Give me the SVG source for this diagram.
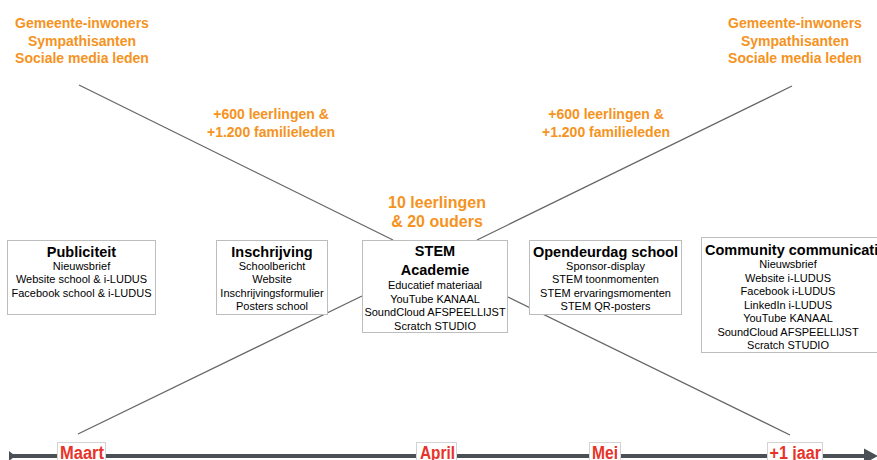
<svg xmlns="http://www.w3.org/2000/svg" width="877" height="460" viewBox="0 0 877 460">
<style>
.o{font-family:"Liberation Sans",Arial,sans-serif;font-weight:bold;fill:#F5931E;text-anchor:middle}
.o14{font-size:14px}
.o16{font-size:16px}
.box{fill:#fff;stroke:#bdbdbd;stroke-width:1}
.t{font-family:"Liberation Sans",Arial,sans-serif;font-weight:bold;font-size:14.5px;fill:#000;text-anchor:middle}
.b{font-family:"Liberation Sans",Arial,sans-serif;font-size:11px;fill:#000;text-anchor:middle}
.ln{stroke:#666;stroke-width:1.3;fill:none}
.lbl{fill:#fff;stroke:#d3d3d3;stroke-width:1}
.m{font-family:"Liberation Sans",Arial,sans-serif;font-weight:bold;font-size:18px;fill:#E8332B}
</style>
<rect width="877" height="460" fill="#fff"/>

<g id="audience-left">
<text class="o o14" x="82" y="28">Gemeente-inwoners</text>
<text class="o o14" x="82" y="45.5">Sympathisanten</text>
<text class="o o14" x="82" y="63">Sociale media leden</text>
</g>
<g id="audience-right">
<text class="o o14" x="795" y="28">Gemeente-inwoners</text>
<text class="o o14" x="795" y="45.5">Sympathisanten</text>
<text class="o o14" x="795" y="63">Sociale media leden</text>
</g>
<g id="reach-left">
<text class="o o14" x="271" y="119">+600 leerlingen &amp;</text>
<text class="o o14" x="271" y="136.5">+1.200 familieleden</text>
</g>
<g id="reach-right">
<text class="o o14" x="606" y="119">+600 leerlingen &amp;</text>
<text class="o o14" x="606" y="136.5">+1.200 familieleden</text>
</g>
<g id="reach-center">
<text class="o o16" x="437" y="207.5">10 leerlingen</text>
<text class="o o16" x="437" y="227">&amp; 20 ouders</text>
</g>

<g id="connectors">
<line class="ln" x1="79" y1="85" x2="393" y2="240"/>
<line class="ln" x1="792" y1="86" x2="477" y2="240"/>
<line class="ln" x1="78" y1="434" x2="362" y2="296"/>
<line class="ln" x1="508" y1="297" x2="790" y2="435"/>
<line x1="10" y1="456" x2="866" y2="456" stroke="#4b5056" stroke-width="4"/>
<polygon points="9,451 14,455 14,457 9,461" fill="#4b5056"/>
<polygon points="864,448.5 878,456 864,463.5" fill="#4b5056"/>
</g>

<g id="publiciteit">
<rect class="box" x="7.5" y="240.5" width="148" height="74"/>
<text class="t" x="81.5" y="257">Publiciteit</text>
<text class="b" x="81.5" y="269.5">Nieuwsbrief</text>
<text class="b" x="81.5" y="283">Website school &amp; i-LUDUS</text>
<text class="b" x="81.5" y="296.5">Facebook school &amp; i-LUDUS</text>
</g>
<g id="inschrijving">
<rect class="box" x="216.5" y="240.5" width="111" height="74"/>
<text class="t" x="272" y="257">Inschrijving</text>
<text class="b" x="272" y="269.5">Schoolbericht</text>
<text class="b" x="272" y="283">Website</text>
<text class="b" x="272" y="296.5">Inschrijvingsformulier</text>
<text class="b" x="272" y="310">Posters school</text>
</g>
<g id="stem-academie">
<rect class="box" x="362.5" y="240.5" width="145" height="92"/>
<text class="t" x="435" y="256">STEM</text>
<text class="t" x="435" y="274.5">Academie</text>
<text class="b" x="435" y="289">Educatief materiaal</text>
<text class="b" x="435" y="302.5">YouTube KANAAL</text>
<text class="b" x="435" y="316">SoundCloud AFSPEELLIJST</text>
<text class="b" x="435" y="329.5">Scratch STUDIO</text>
</g>
<g id="opendeurdag">
<rect class="box" x="529.5" y="240.5" width="152" height="74"/>
<text class="t" x="605.5" y="257">Opendeurdag school</text>
<text class="b" x="605.5" y="269.5">Sponsor-display</text>
<text class="b" x="605.5" y="283">STEM toonmomenten</text>
<text class="b" x="605.5" y="296.5">STEM ervaringsmomenten</text>
<text class="b" x="605.5" y="310">STEM QR-posters</text>
</g>
<g id="community">
<rect class="box" x="701.5" y="237.5" width="190" height="115"/>
<text class="t" x="705" y="255" style="text-anchor:start">Community communication</text>
<text class="b" x="788" y="268">Nieuwsbrief</text>
<text class="b" x="788" y="281.5">Website i-LUDUS</text>
<text class="b" x="788" y="295">Facebook i-LUDUS</text>
<text class="b" x="788" y="308.5">LinkedIn i-LUDUS</text>
<text class="b" x="788" y="322">YouTube KANAAL</text>
<text class="b" x="788" y="335.5">SoundCloud AFSPEELLIJST</text>
<text class="b" x="788" y="349">Scratch STUDIO</text>
</g>

<g id="maart">
<rect class="lbl" x="57.5" y="442.5" width="48" height="24"/>
<text class="m" x="60" y="459" textLength="44" lengthAdjust="spacingAndGlyphs">Maart</text>
</g>
<g id="april">
<rect class="lbl" x="416.5" y="442.5" width="40" height="24"/>
<text class="m" x="420" y="459" textLength="35" lengthAdjust="spacingAndGlyphs">April</text>
</g>
<g id="mei">
<rect class="lbl" x="589.5" y="442.5" width="31" height="24"/>
<text class="m" x="592" y="459" textLength="26" lengthAdjust="spacingAndGlyphs">Mei</text>
</g>
<g id="jaar">
<rect class="lbl" x="767.5" y="442.5" width="55" height="24"/>
<text class="m" x="769.5" y="459" textLength="51.5" lengthAdjust="spacingAndGlyphs">+1 jaar</text>
</g>
</svg>
